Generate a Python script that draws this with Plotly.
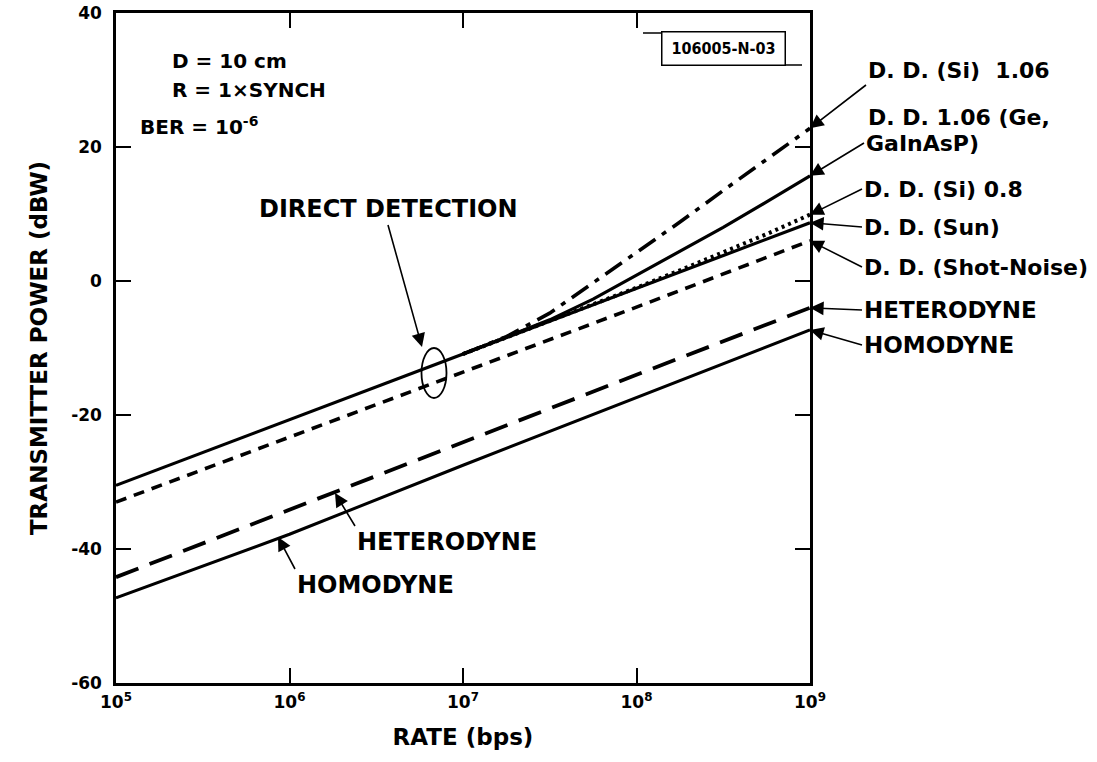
import numpy as np
import plotly.graph_objects as go

# ---------------- data ----------------
rate_full = [1e5, 1e6, 1e7, 1e8, 1e9]
homodyne = [-47.3, -37.8, -27.5, -17.4, -7.3]
heterodyne = [-44.2, -34.1, -24.0, -14.0, -4.0]
dd_sun = [-30.5, -20.7, -10.9, -1.1, 8.7]
dd_shot_noise = [-33.0, -23.3, -13.6, -3.9, 6.0]

rate_dd = [1.0e7, 1.78e7, 3.16e7, 5.62e7, 1.0e8, 1.78e8, 3.16e8, 5.62e8, 1.0e9]
dd_si_106 = [-10.9, -8.3, -4.8, -0.3, 4.2, 8.8, 13.5, 18.1, 22.8]
dd_ge_106 = [-10.9, -8.4, -5.8, -2.7, 0.9, 4.4, 8.0, 11.8, 15.7]
dd_si_08 = [-10.9, -8.45, -6.0, -3.5, -1.0, 1.6, 4.3, 7.0, 9.9]

x_tickvals = [1e5, 1e6, 1e7, 1e8, 1e9]
x_ticktext = ["10<sup>5</sup>", "10<sup>6</sup>", "10<sup>7</sup>", "10<sup>8</sup>", "10<sup>9</sup>"]
y_tickvals = [-60, -40, -20, 0, 20, 40]
y_ticktext = ["-60", "-40", "-20", "0", "20", "40"]

# ---------------- layout geometry ----------------
W, H = 1097, 762
ML, MR, MT, MB = 116, 287, 13, 79
PW, PH = W - ML - MR, H - MT - MB
FONT = "DejaVu Sans, Liberation Sans, sans-serif"


def P(px, py):
    """pixel -> paper coordinates"""
    return (px - ML) / PW, (H - MB - py) / PH


def F(size):
    return dict(family=FONT, size=size, color="black", weight="bold")


fig = go.Figure()

def add_line(x, y, dash, width):
    fig.add_trace(go.Scatter(x=x, y=y, mode="lines",
                             line=dict(color="black", width=width, dash=dash),
                             showlegend=False, hoverinfo="skip"))

add_line(rate_full, homodyne, "solid", 3)
add_line(rate_full, heterodyne, "24px,12px", 3.8)
add_line(rate_full, dd_shot_noise, "11px,8px", 3.6)
add_line(rate_full, dd_sun, "solid", 3.2)
add_line(rate_dd, dd_ge_106, "solid", 3.2)
add_line(rate_dd, dd_si_08, "3px,4px", 4)
add_line(rate_dd, dd_si_106, "20px,8px,5px,8px", 3.6)

annotations = []
ARROW = dict(showarrow=True, arrowhead=2, arrowsize=1.7, arrowwidth=1.6,
             arrowcolor="black", standoff=0, axref="pixel", ayref="pixel")

def text_px(txt, px, py, size, xanchor="left", yanchor="middle"):
    xp, yp = P(px, py)
    annotations.append(dict(text=txt, x=xp, y=yp, xref="paper", yref="paper",
                            xanchor=xanchor, yanchor=yanchor, showarrow=False,
                            font=F(size)))

def label_arrow_px(txt, hx, hy, tx, ty, size, xanchor, yanchor):
    """text whose anchor sits at the arrow tail (tx,ty); arrow head at (hx,hy)"""
    xp, yp = P(hx, hy)
    annotations.append(dict(text=txt, x=xp, y=yp, xref="paper", yref="paper",
                            ax=tx - hx, ay=ty - hy, xanchor=xanchor, yanchor=yanchor,
                            font=F(size), **ARROW))

def label_arrow_data(txt, xv, yv, tx, ty, size, yanchor="middle"):
    """arrow head at the end of a data line (log x axis), text anchored at pixel tail"""
    hy = MT + (40 - yv) / 100 * PH
    annotations.append(dict(text=txt, x=np.log10(xv), y=yv, xref="x", yref="y",
                            ax=tx - (ML + PW), ay=ty - hy, xanchor="left", yanchor=yanchor,
                            font=F(size), **ARROW))

# top-left parameters
text_px("D = 10 cm", 170, 61, 20)
text_px("R = 1\u00d7SYNCH", 170, 90, 20)
text_px("BER = 10<sup>-6</sup>", 138, 126, 20)

# right side labels with arrows to the line ends
label_arrow_data("D. D. (Si)  1.06", rate_dd[-1], dd_si_106[-1], 866, 85, 22, "bottom")
text_px("D. D. 1.06 (Ge,", 866, 117, 22)
label_arrow_data("GaInAsP)", rate_dd[-1], dd_ge_106[-1], 864, 143, 22)
label_arrow_data("D. D. (Si) 0.8", rate_dd[-1], dd_si_08[-1], 862, 189, 22)
label_arrow_data("D. D. (Sun)", rate_full[-1], dd_sun[-1], 862, 227, 22)
label_arrow_data("D. D. (Shot-Noise)", rate_full[-1], dd_shot_noise[-1], 862, 267, 22)
label_arrow_data("HETERODYNE", rate_full[-1], heterodyne[-1], 862, 310, 23)
label_arrow_data("HOMODYNE", rate_full[-1], homodyne[-1], 862, 345, 23)

# in-plot labels
label_arrow_px("DIRECT DETECTION", 422, 347, 388, 225, 24, "center", "bottom")
label_arrow_px("HETERODYNE", 335, 493, 355, 526, 24, "left", "top")
label_arrow_px("HOMODYNE", 278, 537, 295, 569, 24, "left", "top")

# drawing number box
bx, by = P(723, 48)
annotations.append(dict(text="106005-N-03", x=bx, y=by, xref="paper", yref="paper",
                        xanchor="center", yanchor="middle", showarrow=False,
                        font=dict(family="Liberation Sans Narrow, DejaVu Sans Condensed, sans-serif",
                                  size=16, color="black", weight="bold"),
                        bordercolor="black", borderwidth=1.5, borderpad=3,
                        width=116, height=26, bgcolor="white"))

shapes = []
ex0, ey0 = P(421.5, 398)
ex1, ey1 = P(446.5, 348)
shapes.append(dict(type="circle", xref="paper", yref="paper", x0=ex0, y0=ey0,
                   x1=ex1, y1=ey1, line=dict(color="black", width=1.8)))
for (a, b, c, d) in [(643, 33, 661, 33), (785, 65, 802, 65)]:
    x0, y0 = P(a, b)
    x1, y1 = P(c, d)
    shapes.append(dict(type="line", xref="paper", yref="paper", x0=x0, y0=y0,
                       x1=x1, y1=y1, line=dict(color="black", width=1.5)))

fig.update_layout(
    width=W, height=H,
    margin=dict(l=ML, r=MR, t=MT, b=MB, autoexpand=False),
    paper_bgcolor="white", plot_bgcolor="white",
    annotations=annotations, shapes=shapes,
    font=dict(family=FONT, color="black"),
)
fig.update_xaxes(
    type="log", range=[5, 9], tickvals=x_tickvals, ticktext=x_ticktext,
    ticks="inside", ticklen=15, tickwidth=1.8, tickcolor="black",
    showline=True, linecolor="black", linewidth=2.5, mirror="ticks",
    showgrid=False, zeroline=False, ticklabelstandoff=2,
    tickfont=F(17),
    title=dict(text="RATE (bps)", font=F(23), standoff=18),
)
fig.update_yaxes(
    range=[-60, 40], tickvals=y_tickvals, ticktext=y_ticktext,
    ticks="inside", ticklen=15, tickwidth=1.8, tickcolor="black",
    showline=True, linecolor="black", linewidth=2.5, mirror="ticks",
    showgrid=False, zeroline=False, ticklabelstandoff=8,
    tickfont=F(17),
    title=dict(text="TRANSMITTER POWER (dBW)", font=F(23), standoff=18),
)

fig.write_html("out.html", config={"displayModeBar": False},
               post_script="document.body.style.margin='0';")
